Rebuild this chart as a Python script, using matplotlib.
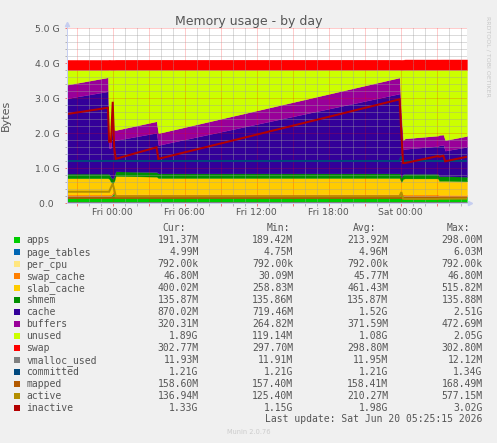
import numpy as np
import matplotlib
matplotlib.use("Agg")
import matplotlib.pyplot as plt
from matplotlib.patches import Rectangle
from matplotlib.ticker import FixedLocator, MultipleLocator, FuncFormatter

W, H = 497, 443

# time axis: hours relative to Fri 00:00
hours = [-3.81, -0.40, -0.30, -0.15, 0.00, 0.12, 0.25, 3.65, 3.80, 23.90,
         24.05, 24.20, 24.35, 27.10, 27.20, 27.55, 27.70, 29.52]

# stacked areas (G)
apps = [0.20, 0.20, 0.20, 0.21, 0.27, 0.29, 0.21, 0.21, 0.21, 0.21,
        0.26, 0.21, 0.20, 0.20, 0.19, 0.19, 0.19, 0.187]
page_tables = [0.0049] * 18
per_cpu = [0.00076] * 18
swap_cache = [0.045, 0.045, 0.045, 0.040, 0.030, 0.030, 0.044, 0.045, 0.045, 0.045,
              0.040, 0.044, 0.045, 0.045, 0.045, 0.0457, 0.0457, 0.0457]
slab_cache = [0.465, 0.465, 0.45, 0.35, 0.26, 0.30, 0.52, 0.50, 0.46, 0.46,
              0.30, 0.44, 0.46, 0.46, 0.40, 0.40, 0.40, 0.39]
shmem = [0.1327] * 18
cache = [2.15, 2.35, 0.74, 0.85, 1.90, 1.04, 0.89, 1.12, 0.81, 2.28,
         1.46, 0.70, 0.71, 0.79, 0.88, 0.89, 0.73, 0.85]
buffers = [0.39, 0.40, 0.26, 0.26, 0.45, 0.30, 0.29, 0.33, 0.34, 0.46,
           0.35, 0.27, 0.30, 0.30, 0.30, 0.30, 0.30, 0.313]
unused = [0.42, 0.21, 1.98, 1.96, 0.76, 1.71, 1.72, 1.47, 1.81, 0.22,
          1.26, 2.01, 1.96, 1.88, 1.86, 1.85, 2.01, 1.89]
swap = [0.291] * 12 + [0.296] * 6

# lines (G)
vmalloc_used = [0.0117] * 18
committed = [1.21] * 10 + [1.34] + [1.21] * 7
mapped = [0.155] * 4 + [0.165] + [0.155] * 13
active = [0.33, 0.33, 0.33, 0.45, 0.56, 0.40, 0.20, 0.20, 0.20, 0.20,
          0.32, 0.13, 0.125, 0.125, 0.13, 0.13, 0.13, 0.134]
inactive = [2.55, 2.73, 1.76, 1.76, 2.90, 1.60, 1.27, 1.60, 1.27, 2.97,
            2.00, 1.15, 1.15, 1.35, 1.33, 1.36, 1.20, 1.33]

area_names = ["apps", "page_tables", "per_cpu", "swap_cache", "slab_cache",
              "shmem", "cache", "buffers", "unused", "swap"]
area_data = [apps, page_tables, per_cpu, swap_cache, slab_cache,
             shmem, cache, buffers, unused, swap]
line_names = ["vmalloc_used", "committed", "mapped", "active", "inactive"]
line_data = [vmalloc_used, committed, mapped, active, inactive]

colors = {
    "apps": "#00cc00", "page_tables": "#0066b3", "per_cpu": "#ffe680",
    "swap_cache": "#ff8000", "slab_cache": "#ffcc00", "shmem": "#008f00",
    "cache": "#330099", "buffers": "#990099", "unused": "#ccff00",
    "swap": "#ff0000", "vmalloc_used": "#808080", "committed": "#00487d",
    "mapped": "#b35a00", "active": "#b38f00", "inactive": "#b30000",
}

cur_vals = ["191.37M", "4.99M", "792.00k", "46.80M", "400.02M", "135.87M",
            "870.02M", "320.31M", "1.89G", "302.77M", "11.93M", "1.21G",
            "158.60M", "136.94M", "1.33G"]
min_vals = ["189.42M", "4.75M", "792.00k", "30.09M", "258.83M", "135.86M",
            "719.46M", "264.82M", "119.14M", "297.70M", "11.91M", "1.21G",
            "157.40M", "125.40M", "1.15G"]
avg_vals = ["213.92M", "4.96M", "792.00k", "45.77M", "461.43M", "135.87M",
            "1.52G", "371.59M", "1.08G", "298.80M", "11.95M", "1.21G",
            "158.41M", "210.27M", "1.98G"]
max_vals = ["298.00M", "6.03M", "792.00k", "46.80M", "515.82M", "135.88M",
            "2.51G", "472.69M", "2.05G", "302.80M", "12.12M", "1.34G",
            "168.49M", "577.15M", "3.02G"]

x_label_hours = [0, 6, 12, 18, 24]
x_labels = ["Fri 00:00", "Fri 06:00", "Fri 12:00", "Fri 18:00", "Sat 00:00"]
y_ticks = [0, 1, 2, 3, 4, 5]
y_labels = ["0.0  ", "1.0 G", "2.0 G", "3.0 G", "4.0 G", "5.0 G"]

TXT = "#555555"
AXC = "#c6cef0"


def fx(x):
    return x / W


def fy(y):
    return 1 - y / H


fig = plt.figure(figsize=(W / 100, H / 100), dpi=100, facecolor="#f0f0f0")
ax = fig.add_axes([fx(67), fy(203.3), 400 / W, 175 / H])
ax.set_facecolor("white")

t = np.array(hours)
stack = np.cumsum(np.vstack(area_data), axis=0)
lower = np.zeros_like(t)
for i, name in enumerate(area_names):
    ax.fill_between(t, lower, stack[i], facecolor=colors[name],
                    edgecolor=colors[name], linewidth=0.2, zorder=1)
    lower = stack[i]

for name, vals in zip(line_names, line_data):
    ax.plot(t, vals, color=colors[name], lw=1.44, zorder=3,
            solid_joinstyle="miter")

ax.set_xlim(hours[0], hours[-1])
ax.set_ylim(0, 5)

label_map = dict(zip(x_label_hours, x_labels))
ax.xaxis.set_major_locator(FixedLocator(np.arange(-3, 28, 3)))
ax.xaxis.set_minor_locator(MultipleLocator(1))
ax.xaxis.set_major_formatter(FuncFormatter(lambda v, p: label_map.get(int(round(v)), "")))
ax.yaxis.set_major_locator(FixedLocator(y_ticks))
ax.yaxis.set_major_formatter(FuncFormatter(lambda v, p: y_labels[int(round(v))]))
ax.yaxis.set_minor_locator(MultipleLocator(0.2))

ax.set_axisbelow(False)
ax.grid(which="minor", color="#a0a0a0", alpha=0.75, lw=0.72, ls=(0, (1, 1)))
ax.grid(which="major", color="#ff0000", alpha=0.4, lw=0.72, ls=(0, (1, 1)))

ax.tick_params(which="major", length=1.8, width=0.72, color="#ff000080",
               labelsize=6.7, labelcolor=TXT)
ax.tick_params(axis="y", which="major", pad=3.7)
ax.tick_params(axis="x", which="major", pad=1.5)
ax.tick_params(which="minor", length=1.8, width=0.72, color="#b4b4b4")

for s in ["top", "right"]:
    ax.spines[s].set_visible(False)
for s in ["left", "bottom"]:
    ax.spines[s].set_color(AXC)
    ax.spines[s].set_linewidth(0.72)
    ax.spines[s].set_zorder(4)

# axis arrows
ax.plot([0], [1.022], marker="^", ms=3, color=AXC, mec=AXC,
        transform=ax.transAxes, clip_on=False, zorder=5)
ax.plot([0, 0], [1.0, 1.022], color=AXC, lw=0.72,
        transform=ax.transAxes, clip_on=False, zorder=5)
ax.plot([1.008], [0], marker=">", ms=3, color=AXC, mec=AXC,
        transform=ax.transAxes, clip_on=False, zorder=5)
ax.plot([1.0, 1.008], [0, 0], color=AXC, lw=0.72,
        transform=ax.transAxes, clip_on=False, zorder=5)

ax.set_ylabel("Bytes", fontsize=8, color=TXT)
ax.yaxis.set_label_coords(fx(10.5 - 67) * W / 400, 0.5)

fig.text(0.5, fy(25), "Memory usage - by day", ha="center", va="baseline",
         fontsize=9, color=TXT)
fig.text(fx(487.5), fy(56), "RRDTOOL / TOBI OETIKER", rotation=270,
         ha="center", va="center", fontsize=4.5, color="#c8c8c8")

# legend
mono = "DejaVu Sans Mono"
lfs = 7
fig.text(fx(162.7), fy(231), "Cur:", family=mono, fontsize=lfs, color=TXT, va="baseline")
fig.text(fx(267), fy(231), "Min:", family=mono, fontsize=lfs, color=TXT, va="baseline")
fig.text(fx(352.7), fy(231), "Avg:", family=mono, fontsize=lfs, color=TXT, va="baseline")
fig.text(fx(446.7), fy(231), "Max:", family=mono, fontsize=lfs, color=TXT, va="baseline")

names = area_names + line_names
for i, name in enumerate(names):
    yb = 243.3 + 12 * i
    fig.patches.append(Rectangle((fx(14), fy(yb - 0.5)), 6 / W, 6 / H,
                                 transform=fig.transFigure, facecolor=colors[name],
                                 edgecolor="none"))
    fig.text(fx(26.5), fy(yb), name, family=mono, fontsize=lfs, color=TXT, va="baseline")
    for xr, vals in zip([198.7, 293.3, 388.3, 482.7],
                        [cur_vals, min_vals, avg_vals, max_vals]):
        fig.text(fx(xr), fy(yb), vals[i], family=mono, fontsize=lfs, color=TXT,
                 ha="right", va="baseline")

fig.text(fx(482.7), fy(422.3), "Last update: Sat Jun 20 05:25:15 2026",
         family=mono, fontsize=lfs, color=TXT, ha="right", va="baseline")
fig.text(0.5, fy(432), "Munin 2.0.76", ha="center", va="center",
         fontsize=4.8, color="#cccccc")

fig.savefig("out.png", dpi=100, facecolor=fig.get_facecolor())
